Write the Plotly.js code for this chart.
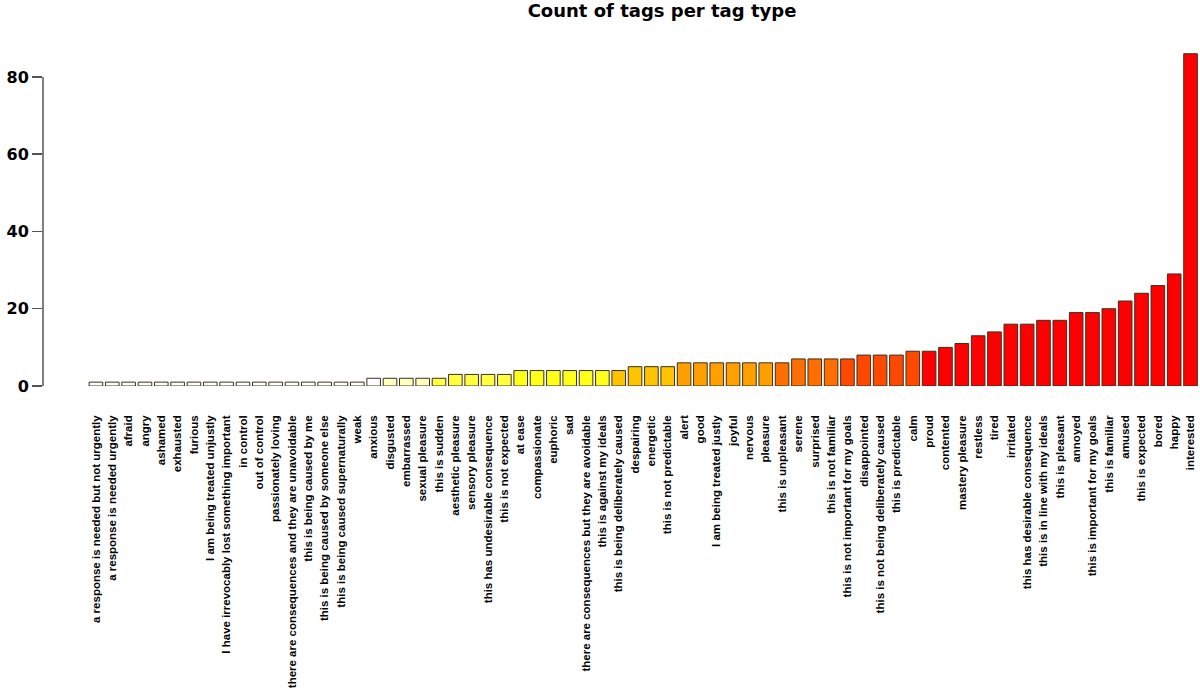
<!DOCTYPE html>
<html>
<head>
<meta charset="utf-8">
<script src="https://cdn.plot.ly/plotly-3.0.1.min.js"></script>
<style>html,body{margin:0;padding:0;background:#fff;}#chart{width:1200px;height:693px;}</style>
</head>
<body>
<div id="chart"></div>
<script>
// ---- data ----
const tagTypes = [
  "a response is needed but not urgently","a response is needed urgently","afraid","angry","ashamed",
  "exhausted","furious","I am being treated unjustly","I have irrevocably lost something important",
  "in control","out of control","passionately loving","there are consequences and they are unavoidable",
  "this is being caused by me","this is being caused by someone else","this is being caused supernaturally",
  "weak","anxious","disgusted","embarrassed","sexual pleasure","this is sudden","aesthetic pleasure",
  "sensory pleasure","this has undesirable consequence","this is not expected","at ease","compassionate",
  "euphoric","sad","there are consequences but they are avoidable","this is against my ideals",
  "this is being deliberately caused","despairing","energetic","this is not predictable","alert","good",
  "I am being treated justly","joyful","nervous","pleasure","this is unpleasant","serene","surprised",
  "this is not familiar","this is not important for my goals","disappointed",
  "this is not being deliberately caused","this is predictable","calm","proud","contented",
  "mastery pleasure","restless","tired","irritated","this has desirable consequence",
  "this is in line with my ideals","this is pleasant","annoyed","this is important for my goals",
  "this is familiar","amused","this is expected","bored","happy","interested"
];
const tagCounts = [
  1,1,1,1,1,1,1,1,1,1,1,1,1,1,1,1,1,
  2,2,2,2,2,
  3,3,3,3,
  4,4,4,4,4,4,4,
  5,5,5,
  6,6,6,6,6,6,6,
  7,7,7,7,
  8,8,8,
  9,9,10,11,13,14,16,16,17,17,19,19,20,22,24,26,29,86
];
const yTickValues = [0, 20, 40, 60, 80];

// ---- style (fill colour per bar, heat-style ramp) ----
const colourBands = [
  {n: 18, c: "#FFFFFF"},
  {n: 3,  c: "#FFFFBF"},
  {n: 5,  c: "#FFFF40"},
  {n: 6,  c: "#FFFF1A"},
  {n: 4,  c: "#FFC400"},
  {n: 6,  c: "#FFA000"},
  {n: 4,  c: "#FF6E00"},
  {n: 5,  c: "#FF4800"},
  {n: 17, c: "#FF0000"}
];
const barColours = [];
colourBands.forEach(b => { for (let k = 0; k < b.n; k++) barColours.push(b.c); });

const trace = {
  type: "bar",
  x: tagTypes,
  y: tagCounts,
  marker: {color: barColours, line: {color: "#3a3020", width: 1}},
  hoverinfo: "x+y"
};

const layout = {
  width: 1200, height: 693,
  margin: {l: 43, r: 0, t: 46, b: 307},
  paper_bgcolor: "#fff", plot_bgcolor: "#fff",
  bargap: 0.167,
  showlegend: false,
  title: {
    text: "Count of tags per tag type",
    x: 0.535, xref: "paper", xanchor: "center",
    y: 0.984, yref: "container", yanchor: "middle",
    font: {family: "DejaVu Sans", size: 18, weight: "bold", color: "#000"}
  },
  xaxis: {
    type: "category",
    range: [-3.24, 67.58],
    tickangle: -90,
    ticks: "",
    ticklabelstandoff: 26,
    showline: false, showgrid: false, zeroline: false,
    tickfont: {family: "Liberation Sans", size: 11.5, weight: "bold", color: "#000"},
    automargin: false
  },
  yaxis: {
    range: [0, 88],
    tickvals: yTickValues,
    ticktext: yTickValues.map(String),
    ticks: "outside", ticklen: 10, tickwidth: 1.5, tickcolor: "#555",
    ticklabelstandoff: 0,
    showline: false, showgrid: false, zeroline: false,
    tickfont: {family: "DejaVu Sans", size: 16, weight: "bold", color: "#000"},
    automargin: false
  },
  shapes: [{
    type: "line", xref: "paper", yref: "y",
    x0: 0, x1: 0, y0: yTickValues[0], y1: yTickValues[yTickValues.length - 1],
    line: {color: "#555", width: 1.5}
  }]
};

Plotly.newPlot("chart", [trace], layout, {displayModeBar: false, staticPlot: true});
</script>
</body>
</html>
